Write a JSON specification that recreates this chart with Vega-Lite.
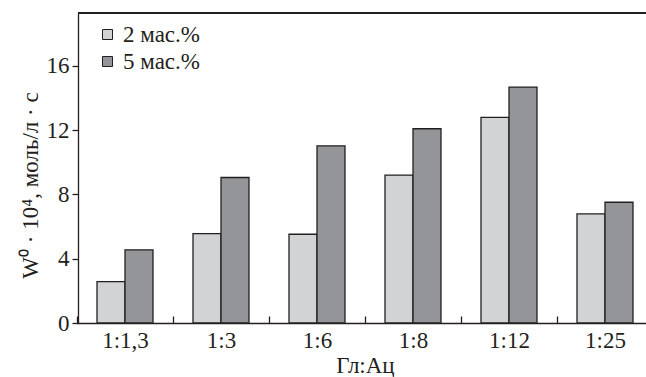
{
  "$schema": "https://vega.github.io/schema/vega-lite/v6.json",
  "autosize": {"type": "none"},
  "padding": {"left": 78, "top": 13, "right": 0, "bottom": 54},
  "width": 568,
  "height": 310,
  "background": "white",
  "data": {
    "values": [
      {"ratio": "1:1,3", "conc": "2 мас.%", "W": 2.57},
      {"ratio": "1:1,3", "conc": "5 мас.%", "W": 4.55},
      {"ratio": "1:3", "conc": "2 мас.%", "W": 5.56},
      {"ratio": "1:3", "conc": "5 мас.%", "W": 9.05},
      {"ratio": "1:6", "conc": "2 мас.%", "W": 5.52},
      {"ratio": "1:6", "conc": "5 мас.%", "W": 11.02},
      {"ratio": "1:8", "conc": "2 мас.%", "W": 9.2},
      {"ratio": "1:8", "conc": "5 мас.%", "W": 12.08},
      {"ratio": "1:12", "conc": "2 мас.%", "W": 12.79},
      {"ratio": "1:12", "conc": "5 мас.%", "W": 14.67},
      {"ratio": "1:25", "conc": "2 мас.%", "W": 6.79},
      {"ratio": "1:25", "conc": "5 мас.%", "W": 7.51}
    ]
  },
  "layer": [
    {
      "mark": {"type": "bar", "stroke": "#231f20", "strokeWidth": 1.3},
      "encoding": {
        "x": {
          "field": "ratio", "type": "nominal", "sort": null,
          "scale": {"range": [-1, 575], "paddingInner": 0, "paddingOuter": 0},
          "title": "Гл:Ац",
          "axis": {
            "labelAngle": 0, "tickBand": "extent", "tickSize": -7,
            "labelPadding": 13, "titlePadding": 2
          }
        },
        "xOffset": {
          "field": "conc", "type": "nominal", "sort": null,
          "scale": {"paddingInner": 0, "paddingOuter": 0.714}
        },
        "y": {
          "field": "W", "type": "quantitative",
          "scale": {"domain": [0, 19.28], "nice": false, "zero": true},
          "title": "W⁰ · 10⁴, моль/л · с",
          "axis": {
            "values": [0, 4, 8, 12, 16], "tickSize": 6, "labelPadding": 3,
            "titleX": -41, "titleY": 172, "titleAlign": "center",
            "titleBaseline": "alphabetic", "titleAngle": -90
          }
        },
        "color": {
          "field": "conc", "type": "nominal", "sort": null,
          "scale": {"range": ["#d2d3d5", "#939598"]},
          "legend": {
            "orient": "none", "legendX": 18, "legendY": 10, "title": null,
            "symbolType": "square", "symbolSize": 100,
            "symbolStrokeColor": "#231f20", "symbolStrokeWidth": 1,
            "symbolOpacity": 1,
            "labelFontSize": 23, "labelFont": "Times New Roman, Liberation Serif, serif",
            "labelColor": "#231f20", "labelOffset": 4, "rowPadding": 3
          }
        }
      }
    },
    {
      "mark": {"type": "rule", "color": "#231f20", "strokeWidth": 1.3},
      "encoding": {"y": {"datum": 19.28}}
    }
  ],
  "config": {
    "view": {"stroke": null},
    "axis": {
      "grid": false,
      "domainColor": "#231f20", "domainWidth": 1.3,
      "tickColor": "#231f20", "tickWidth": 1.3,
      "labelFont": "Times New Roman, Liberation Serif, serif", "labelFontSize": 23, "labelColor": "#231f20",
      "titleFont": "Times New Roman, Liberation Serif, serif", "titleFontSize": 23, "titleFontWeight": "normal",
      "titleColor": "#231f20"
    }
  }
}
